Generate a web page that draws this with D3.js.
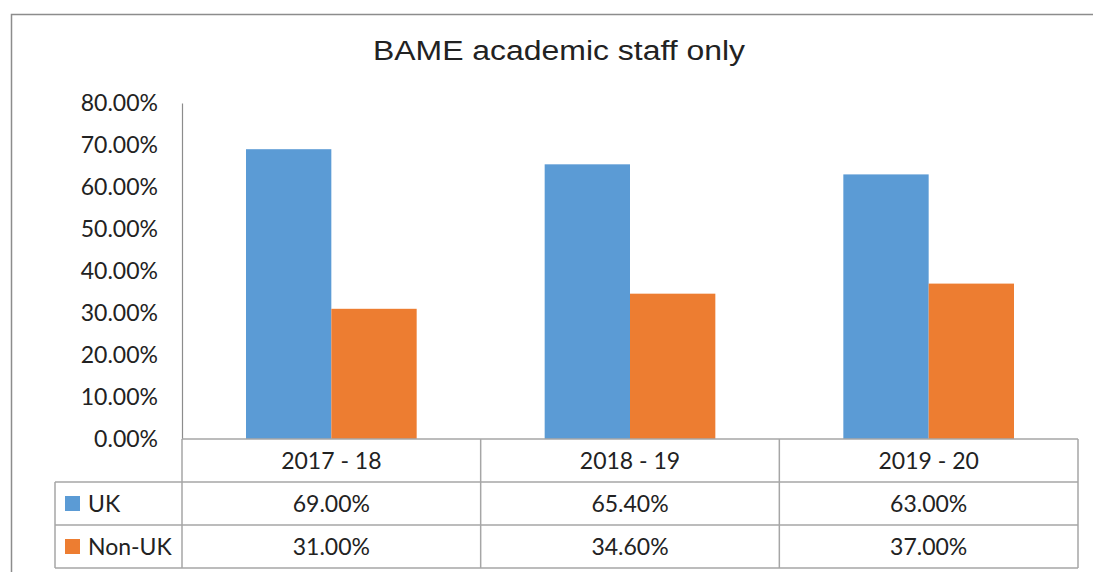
<!DOCTYPE html>
<html lang="en">
<head>
<meta charset="UTF-8">
<title>BAME academic staff only</title>
<script src="https://d3js.org/d3.v7.min.js"></script>
<style>
  body { margin: 0; background: #fff; }
  svg text { font-family: Lato, "Open Sans", sans-serif; fill: #222; }
</style>
</head>
<body>
<script>
// chart data
var years = ["2017 - 18", "2018 - 19", "2019 - 20"];
var seriesNames = ["UK", "Non-UK"];
var ukValues = [69.0, 65.4, 63.0];
var nonUkValues = [31.0, 34.6, 37.0];
var yTicks = [0, 10, 20, 30, 40, 50, 60, 70, 80];
var colors = ["#5b9bd5", "#ed7d31"];

var width = 1093, height = 572;
var plotLeft = 182, plotRight = 1078, plotTop = 103, plotBottom = 439;
var rowH = 43;
var fs = "23px";

var svg = d3.select("body").append("svg")
    .attr("width", width)
    .attr("height", height);

// outer frame (top + left only visible in the crop)
svg.append("path")
    .attr("d", "M11.5," + height + "V14.5H" + width)
    .attr("fill", "none")
    .attr("stroke", "#8c8c8c")
    .attr("stroke-width", 1.5);

// title is stretched wide in the original picture
svg.append("text")
    .attr("x", 559)
    .attr("y", 60)
    .attr("text-anchor", "middle")
    .attr("textLength", 372)
    .attr("lengthAdjust", "spacingAndGlyphs")
    .style("font-family", "'Liberation Sans', Arial, sans-serif")
    .style("font-size", "27px")
    .text("BAME academic staff only");

var x0 = d3.scaleBand()
    .domain(years)
    .range([plotLeft, plotRight]);

var x1 = d3.scaleBand()
    .domain(seriesNames)
    .range([0, x0.bandwidth()])
    .paddingOuter(0.75)
    .paddingInner(0);

var y = d3.scaleLinear()
    .domain([0, 80])
    .range([plotBottom, plotTop]);

// y axis
var yAxis = d3.axisLeft(y)
    .tickValues(yTicks)
    .tickSize(0)
    .tickPadding(24)
    .tickFormat(function (d) { return d.toFixed(2) + "%"; });

var gy = svg.append("g")
    .attr("transform", "translate(" + plotLeft + ",0)")
    .call(yAxis);
gy.select(".domain").attr("stroke", "#8c8c8c").attr("stroke-width", 1.2);
gy.selectAll("text")
    .style("font-size", fs)
    .style("font-family", "Lato, sans-serif")
    .attr("fill", "#222");

// bars
var table = years.map(function (yr, i) {
    return { year: yr, values: [ukValues[i], nonUkValues[i]] };
});

var groups = svg.append("g").selectAll("g")
    .data(table)
    .enter().append("g")
    .attr("transform", function (d) { return "translate(" + x0(d.year) + ",0)"; });

groups.selectAll("rect")
    .data(function (d) { return d.values.map(function (v, j) { return { name: seriesNames[j], value: v, i: j }; }); })
    .enter().append("rect")
    .attr("x", function (d) { return x1(d.name); })
    .attr("width", x1.bandwidth())
    .attr("y", function (d) { return y(d.value); })
    .attr("height", function (d) { return plotBottom - y(d.value); })
    .attr("fill", function (d) { return colors[d.i]; });

// data table
var lineColor = "#a6a6a6";
var legLeft = 55;
var tg = svg.append("g")
    .attr("stroke", lineColor)
    .attr("stroke-width", 1.5)
    .attr("fill", "none");

// horizontal lines
tg.append("line").attr("x1", plotLeft).attr("x2", plotRight).attr("y1", plotBottom).attr("y2", plotBottom);
[1, 2, 3].forEach(function (r) {
    tg.append("line")
        .attr("x1", legLeft).attr("x2", plotRight)
        .attr("y1", plotBottom + r * rowH).attr("y2", plotBottom + r * rowH);
});
// vertical lines
x0.domain().forEach(function (yr) {
    tg.append("line").attr("x1", x0(yr)).attr("x2", x0(yr))
        .attr("y1", plotBottom).attr("y2", plotBottom + 3 * rowH);
});
tg.append("line").attr("x1", plotRight).attr("x2", plotRight)
    .attr("y1", plotBottom).attr("y2", plotBottom + 3 * rowH);
tg.append("line").attr("x1", legLeft).attr("x2", legLeft)
    .attr("y1", plotBottom + rowH).attr("y2", plotBottom + 3 * rowH);

// header row
svg.selectAll(".hdr")
    .data(years)
    .enter().append("text")
    .attr("class", "hdr")
    .attr("x", function (d) { return x0(d) + x0.bandwidth() / 2; })
    .attr("y", plotBottom + rowH / 2)
    .attr("dy", "0.36em")
    .attr("text-anchor", "middle")
    .style("font-size", fs)
    .text(function (d) { return d; });

// series rows
var rows = [ukValues, nonUkValues];
rows.forEach(function (vals, r) {
    var cy = plotBottom + (r + 1) * rowH + rowH / 2;
    svg.append("rect")
        .attr("x", 65).attr("y", cy - 7.5)
        .attr("width", 15).attr("height", 15)
        .attr("fill", colors[r]);
    svg.append("text")
        .attr("x", 88).attr("y", cy)
        .attr("dy", "0.36em")
        .style("font-size", fs)
        .text(seriesNames[r]);
    svg.selectAll(".cell" + r)
        .data(vals)
        .enter().append("text")
        .attr("x", function (d, i) { return x0(years[i]) + x0.bandwidth() / 2; })
        .attr("y", cy)
        .attr("dy", "0.36em")
        .attr("text-anchor", "middle")
        .style("font-size", fs)
        .text(function (d) { return d.toFixed(2) + "%"; });
});
</script>
</body>
</html>
